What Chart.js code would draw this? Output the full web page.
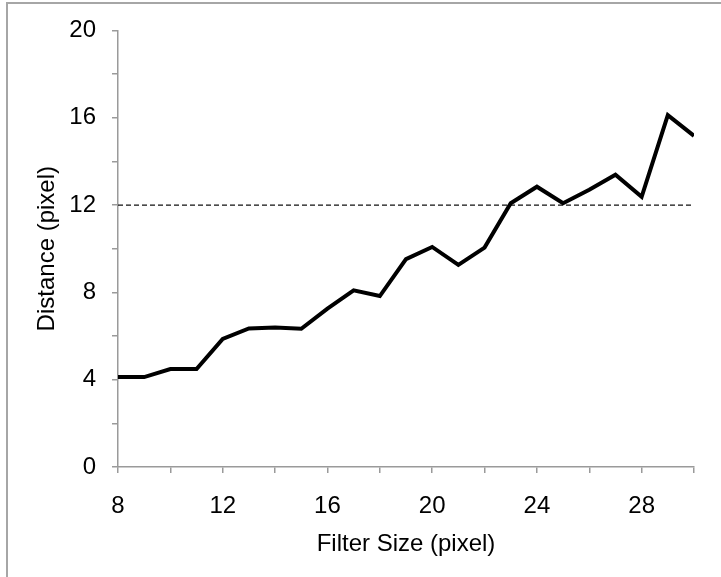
<!DOCTYPE html>
<html>
<head>
<meta charset="utf-8">
<script src="https://cdn.jsdelivr.net/npm/chart.js@4/dist/chart.umd.min.js"></script>
<style>
  html, body { margin: 0; padding: 0; background: #fff; }
  #wrap { position: relative; width: 721px; height: 577px; overflow: hidden; }
  #frame { position: absolute; left: 6px; top: 2px; width: 800px; height: 700px;
           border-left: 2px solid #a6a6a6; border-top: 2px solid #a6a6a6; }
  #c { position: absolute; left: 0; top: 0; }
</style>
</head>
<body>
<div id="wrap">
  <div id="frame"></div>
  <canvas id="c" width="721" height="577"></canvas>
</div>
<script>
// Filter sizes (pixel) and measured distance (pixel)
const filterSizes = [8, 9, 10, 11, 12, 13, 14, 15, 16, 17, 18, 19, 20, 21, 22, 23, 24, 25, 26, 27, 28, 29, 30];
const distances   = [4.12, 4.12, 4.49, 4.49, 5.87, 6.35, 6.39, 6.33, 7.25, 8.09, 7.83, 9.52, 10.08, 9.26, 10.05, 12.08, 12.84, 12.08, 12.7, 13.39, 12.38, 16.12, 15.17];

// Threshold reference line
const thresholdX = [8, 30];
const thresholdY = [12, 12];

const xTickLabels = [8, 12, 16, 20, 24, 28];
const yTickLabels = [0, 4, 8, 12, 16, 20];

const FONT = 'Liberation Sans, Arial, sans-serif';
const AXIS_GREY = '#9a9a9a';

new Chart(document.getElementById('c'), {
  type: 'line',
  data: {
    datasets: [
      {
        label: 'Distance',
        data: filterSizes.map((x, i) => ({ x, y: distances[i] })),
        borderColor: '#000',
        borderWidth: 4,
        pointRadius: 0,
        tension: 0,
        borderJoinStyle: 'miter'
      },
      {
        label: 'Threshold',
        data: thresholdX.map((x, i) => ({ x, y: thresholdY[i] })),
        borderColor: '#111',
        borderWidth: 1.3,
        borderDash: [5, 3],
        pointRadius: 0
      }
    ]
  },
  options: {
    responsive: false,
    animation: false,
    events: [],
    layout: { padding: { top: 25, right: 27, left: 33, bottom: 18 } },
    plugins: { legend: { display: false }, tooltip: { enabled: false } },
    scales: {
      x: {
        type: 'linear',
        min: 8, max: 30,
        border: { color: AXIS_GREY, width: 1.5 },
        grid: { drawOnChartArea: false, color: AXIS_GREY, tickLength: 6, lineWidth: 1.5 },
        ticks: {
          stepSize: 2,
          color: '#000',
          font: { family: FONT, size: 24 },
          padding: 19,
          maxRotation: 0,
          autoSkip: false,
          callback: v => xTickLabels.includes(v) ? String(v) : ''
        },
        title: {
          display: true,
          text: 'Filter Size (pixel)',
          color: '#000',
          font: { family: FONT, size: 24 },
          padding: { top: 4, bottom: 0 }
        },
        afterFit: s => { s.height = 577 - 18 - 467; }
      },
      y: {
        type: 'linear',
        min: 0, max: 20,
        border: { color: AXIS_GREY, width: 1.5 },
        grid: { drawOnChartArea: false, color: AXIS_GREY, tickLength: 6, lineWidth: 1.5 },
        ticks: {
          stepSize: 2,
          color: '#000',
          font: { family: FONT, size: 24 },
          padding: 16,
          callback: v => yTickLabels.includes(v) ? String(v) : ''
        },
        title: {
          display: true,
          text: 'Distance (pixel)',
          color: '#000',
          font: { family: FONT, size: 24 },
          padding: { top: 0, bottom: 6 }
        },
        afterFit: s => { s.width = 118 - 33; }
      }
    }
  }
});
</script>
</body>
</html>
